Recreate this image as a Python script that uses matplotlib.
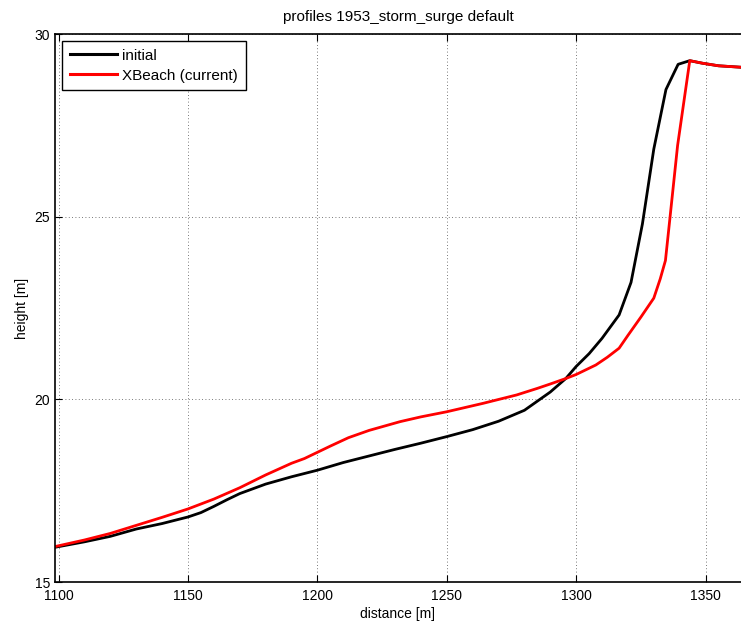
import matplotlib
matplotlib.use("Agg")
import matplotlib.pyplot as plt

plt.rcParams['font.family'] = ['Liberation Sans', 'DejaVu Sans']
plt.rcParams['font.size'] = 10

# initial profile
x_initial = [1098.6, 1110, 1120, 1130, 1140, 1150, 1155, 1160, 1165, 1170,
             1180, 1190, 1200, 1210, 1220, 1230, 1240, 1250, 1260, 1270,
             1280, 1285, 1290, 1296, 1300, 1305, 1310, 1316.6, 1321.2, 1325.6,
             1330, 1334.7, 1339.4, 1343.9, 1348.8, 1355, 1363.7]
z_initial = [15.95, 16.10, 16.25, 16.45, 16.60, 16.78, 16.90, 17.07, 17.25, 17.42,
             17.68, 17.88, 18.06, 18.27, 18.45, 18.63, 18.80, 18.98, 19.17, 19.40,
             19.70, 19.95, 20.20, 20.57, 20.90, 21.25, 21.67, 22.31, 23.20, 24.80,
             26.85, 28.48, 29.17, 29.27, 29.20, 29.13, 29.09]

# XBeach result
x_xbeach = [1098.6, 1110, 1120, 1130, 1140, 1150, 1160, 1170, 1180, 1190,
            1195, 1200, 1205, 1212, 1220, 1232, 1240, 1250, 1264, 1277,
            1285, 1290, 1296, 1300, 1307.6, 1312, 1316.6, 1320, 1325, 1330,
            1332.5, 1334.5, 1336.3, 1339.2, 1343.9, 1348.8, 1355, 1363.7]
z_xbeach = [15.97, 16.15, 16.33, 16.55, 16.77, 17.00, 17.27, 17.58, 17.93, 18.25,
            18.38, 18.55, 18.72, 18.95, 19.15, 19.39, 19.52, 19.66, 19.89, 20.12,
            20.30, 20.42, 20.57, 20.68, 20.94, 21.15, 21.40, 21.75, 22.25, 22.77,
            23.30, 23.80, 25.00, 26.95, 29.27, 29.20, 29.13, 29.09]

fig = plt.figure(figsize=(7.41, 6.26), dpi=100)
ax = fig.add_axes([55 / 741, 1 - 582 / 626, 1 - 55 / 741, (582 - 34) / 626])

ax.plot(x_initial, z_initial, color='black', linewidth=2, label='initial')
ax.plot(x_xbeach, z_xbeach, color='red', linewidth=2, label='XBeach (current)')

ax.set_xlim(1098.6, 1363.7)
ax.set_ylim(15, 30)
ax.set_xticks([1100, 1150, 1200, 1250, 1300, 1350])
ax.set_yticks([15, 20, 25, 30])
ax.grid(True, color='black', linestyle=(0, (1, 3)), linewidth=0.6, alpha=0.7)
ax.tick_params(direction='in', top=True, right=False, length=5)
ax.tick_params(axis='x', pad=5)
ax.spines['right'].set_visible(False)
for s in ax.spines.values():
    s.set_linewidth(1.2)

ax.set_xlabel('distance [m]', labelpad=3)
ax.set_ylabel('height [m]')
ax.set_title('profiles 1953_storm_surge default', fontsize=11, pad=9.5)

leg = ax.legend(loc='upper left', fancybox=False, edgecolor='black',
                framealpha=1, fontsize=11, handlelength=3.1, handletextpad=0.35,
                labelspacing=0.4, borderaxespad=0.45, borderpad=0.5)
leg.get_frame().set_linewidth(1.0)
for line in leg.get_lines():
    line.set_linewidth(2.2)

fig.savefig('out.png', dpi=100)
